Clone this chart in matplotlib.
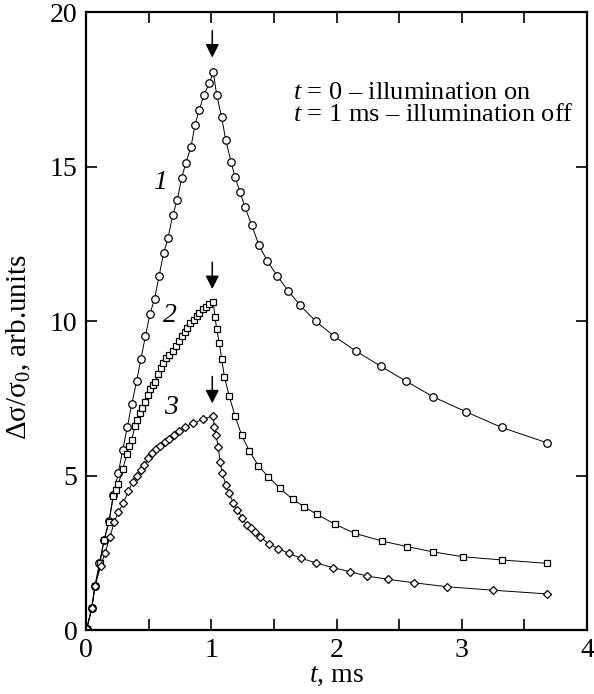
import matplotlib
matplotlib.use("Agg")
import matplotlib.pyplot as plt

# Curve 1 (circles)
t1 = [0.005, 0.045, 0.072, 0.106, 0.144, 0.184, 0.218, 0.258, 0.293, 0.330, 0.365, 0.404, 0.439, 0.474,
      0.511, 0.548, 0.583, 0.620, 0.655, 0.692, 0.729, 0.764, 0.798, 0.838, 0.870, 0.905, 0.942, 0.985, 1.016,
      1.043, 1.083, 1.115, 1.158, 1.190, 1.230, 1.269, 1.323, 1.381, 1.448, 1.528, 1.615, 1.709, 1.834,
      1.983, 2.156, 2.355, 2.555, 2.773, 3.032, 3.319, 3.683]
y1 = [0.02, 0.70, 1.43, 2.16, 2.91, 3.54, 4.37, 5.09, 5.83, 6.58, 7.31, 8.06, 8.79, 9.51,
      10.25, 10.73, 11.46, 12.21, 12.70, 13.43, 13.94, 14.65, 15.14, 15.64, 16.37, 16.85, 17.34, 17.71, 18.07,
      17.34, 16.61, 15.88, 15.16, 14.67, 14.18, 13.70, 13.11, 12.46, 11.95, 11.46, 10.98, 10.52, 10.00,
      9.51, 9.03, 8.54, 8.06, 7.55, 7.07, 6.56, 6.06]

# Curve 2 (squares)
t2 = [0.005, 0.045, 0.072, 0.112, 0.144, 0.184, 0.218, 0.240, 0.258, 0.293, 0.325, 0.345, 0.365, 0.391,
      0.411, 0.431, 0.451, 0.471, 0.491, 0.511, 0.531, 0.551, 0.575, 0.597, 0.617, 0.640, 0.665, 0.692,
      0.715, 0.740, 0.764, 0.790, 0.810, 0.830, 0.860, 0.885, 0.905, 0.935, 0.958, 0.985, 1.016,
      1.030, 1.043, 1.065, 1.083, 1.105, 1.144, 1.190, 1.243, 1.304, 1.376, 1.456, 1.549, 1.650, 1.743,
      1.842, 1.990, 2.148, 2.366, 2.565, 2.773, 3.012, 3.319, 3.678]
y2 = [0.02, 0.70, 1.43, 2.16, 2.91, 3.50, 4.34, 4.55, 4.72, 5.20, 5.69, 5.95, 6.17, 6.60,
      6.80, 7.03, 7.20, 7.39, 7.60, 7.79, 7.92, 8.04, 8.30, 8.50, 8.65, 8.80, 8.90, 9.04,
      9.20, 9.35, 9.51, 9.65, 9.78, 9.93, 10.05, 10.18, 10.27, 10.40, 10.46, 10.55, 10.62,
      10.14, 9.76, 9.28, 8.79, 8.20, 7.57, 6.93, 6.31, 5.80, 5.32, 4.96, 4.59, 4.23, 3.99,
      3.75, 3.42, 3.13, 2.88, 2.70, 2.53, 2.37, 2.27, 2.16]

# Curve 3 (diamonds)
t3 = [0.005, 0.045, 0.072, 0.117, 0.152, 0.192, 0.226, 0.258, 0.298, 0.338, 0.373, 0.405, 0.437, 0.465,
      0.498, 0.524, 0.559, 0.591, 0.631, 0.665, 0.703, 0.745, 0.790, 0.852, 0.932, 1.016,
      1.024, 1.038, 1.056, 1.070, 1.088, 1.118, 1.144, 1.176, 1.208, 1.248, 1.283, 1.317, 1.349, 1.389,
      1.464, 1.536, 1.620, 1.720, 1.840, 1.970, 2.108, 2.241, 2.414, 2.619, 2.885, 3.247, 3.678]
y3 = [0.02, 0.70, 1.42, 2.07, 2.50, 3.02, 3.50, 3.83, 4.10, 4.50, 4.80, 4.98, 5.18, 5.36,
      5.56, 5.72, 5.85, 5.96, 6.09, 6.20, 6.33, 6.45, 6.58, 6.69, 6.82, 6.94,
      6.58, 6.31, 5.93, 5.45, 5.07, 4.69, 4.44, 4.10, 3.88, 3.63, 3.40, 3.29, 3.18, 3.02,
      2.78, 2.64, 2.48, 2.32, 2.17, 2.02, 1.89, 1.75, 1.64, 1.53, 1.40, 1.29, 1.17]

# arrows (x, y_start, y_end) and curve labels
arrows = [(1.008, 19.5, 18.45), (1.008, 12.0, 10.95), (1.008, 8.3, 7.25)]
labels = [("1", 0.59, 14.5), ("2", 0.67, 10.2), ("3", 0.675, 7.2)]

plt.rcParams["font.family"] = "Liberation Serif"
plt.rcParams["mathtext.fontset"] = "custom"
plt.rcParams["mathtext.rm"] = "Liberation Serif"
plt.rcParams["mathtext.it"] = "Liberation Serif:italic"

fig = plt.figure(figsize=(5.94, 6.94), dpi=100)
ax = fig.add_axes([0.1448, 0.0922, 0.8434, 0.8898])

common = dict(color="black", lw=0.7, mfc="white", mec="black", mew=0.9)
ax.plot(t1, y1, marker="o", ms=5.4, **common)
ax.plot(t2, y2, marker="s", ms=4.8, **common)
ax.plot(t3, y3, marker="D", ms=4.2, **common)

for x, ys, ye in arrows:
    ax.annotate("", xy=(x, ye), xytext=(x, ys),
                arrowprops=dict(arrowstyle="-|>", color="black", lw=1.1, mutation_scale=20))

for txt, x, y in labels:
    ax.text(x, y, txt, fontsize=20, style="italic", ha="center", va="center")

ax.text(1.653, 17.21, "$t$ = 0 \u2013 illumination on", fontsize=19, ha="left", va="baseline")
ax.text(1.653, 16.48, "$t$ = 1 ms \u2013 illumination off", fontsize=19, ha="left", va="baseline")

ax.set_xlim(0, 4)
ax.set_ylim(0, 20)
ax.set_xticks([0, 1, 2, 3, 4])
ax.set_xticks([0.5, 1.5, 2.5, 3.5], minor=True)
ax.set_yticks([0, 5, 10, 15, 20])
ax.tick_params(which="both", direction="in", top=True, right=True, length=8, width=1.2,
               labelsize=20, pad=6)
for s in ax.spines.values():
    s.set_linewidth(1.6)

ax.set_xlabel("$t$, ms", fontsize=20, labelpad=0)
ax.set_ylabel("\u0394\u03c3/\u03c3$_0$, arb.units", fontsize=21)
ax.yaxis.set_label_coords(-0.105, 0.458)

plt.savefig("out.png", dpi=100)
